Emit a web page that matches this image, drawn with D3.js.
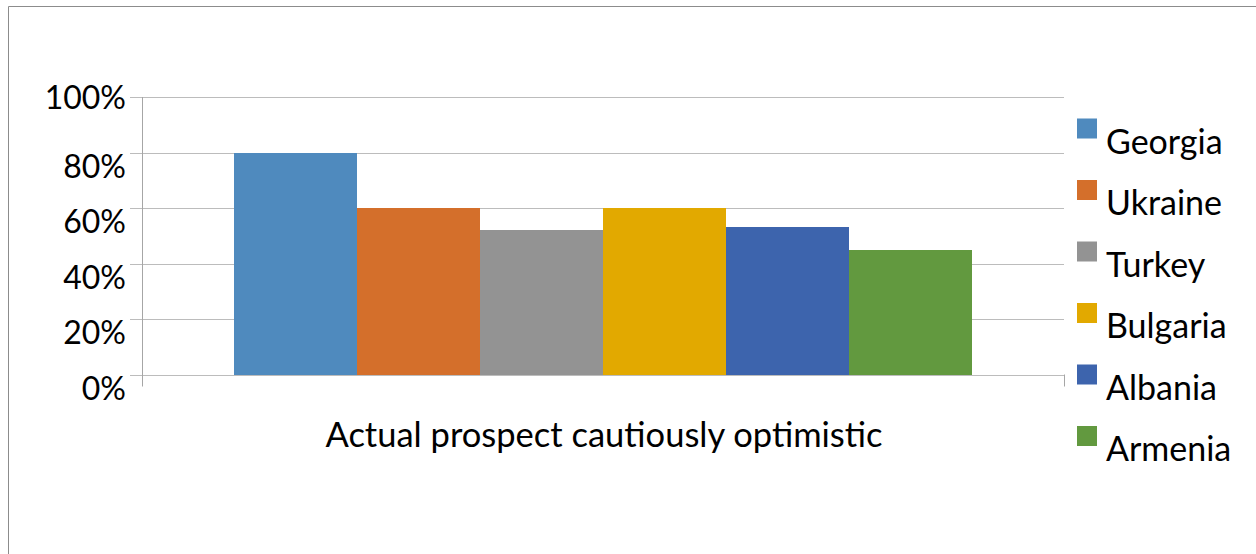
<!DOCTYPE html>
<html>
<head>
<meta charset="utf-8">
<script src="https://cdn.jsdelivr.net/npm/d3@7"></script>
<style>
  html, body { margin: 0; padding: 0; background: #fff; }
  svg { display: block; }
  text { font-family: Lato, "Open Sans", sans-serif; fill: #000; }
</style>
</head>
<body>
<svg id="chart" width="1256" height="554"></svg>
<script>
// Survey result: share of respondents per country
const category = "Actual prospect cautiously optimistic";
const countries = ["Georgia", "Ukraine", "Turkey", "Bulgaria", "Albania", "Armenia"];
const values = [0.80, 0.60, 0.52, 0.60, 0.53, 0.45];
const colors = ["#4f8abe", "#d46f2b", "#939393", "#e2a900", "#3d64ad", "#62993f"];
const yTicks = [0, 0.2, 0.4, 0.6, 0.8, 1.0];

const svg = d3.select("#chart");
const W = 1256, H = 554;
const plot = { left: 142, right: 1064, top: 97, bottom: 374.5 };

// chart frame
svg.append("path")
  .attr("d", `M8.5,${H} V6.5 H${W}`)
  .attr("fill", "none")
  .attr("stroke", "#8c8c8c")
  .attr("stroke-width", 1);

const y = d3.scaleLinear().domain([0, 1]).range([plot.bottom, plot.top]);

const x0 = d3.scaleBand()
  .domain([category])
  .range([plot.left, plot.right])
  .paddingInner(0)
  .paddingOuter(0.125);

const x1 = d3.scaleBand()
  .domain(countries)
  .range([0, x0.bandwidth()])
  .padding(0);

const color = d3.scaleOrdinal().domain(countries).range(colors);

// horizontal gridlines, extending left past the value axis as tick marks
const gy = svg.append("g")
  .attr("transform", `translate(${plot.right},0)`)
  .call(d3.axisLeft(y).tickValues(yTicks).tickSize(plot.right - 130).tickFormat(""));
gy.select(".domain").remove();
gy.selectAll(".tick line")
  .attr("stroke", "#bcbcbc")
  .attr("shape-rendering", "crispEdges");

// tick labels
svg.append("g")
  .selectAll("text")
  .data(yTicks)
  .join("text")
  .attr("x", 126)
  .attr("y", d => y(d) + (d === 1 ? 12 : 25))
  .attr("text-anchor", "end")
  .attr("font-size", 32)
  .text(d3.format(".0%"));

// bars
svg.append("g")
  .attr("transform", `translate(${x0(category)},0)`)
  .selectAll("rect")
  .data(countries.map((c, i) => ({ country: c, value: values[i] })))
  .join("rect")
  .attr("x", d => x1(d.country))
  .attr("y", d => y(d.value))
  .attr("width", x1.bandwidth())
  .attr("height", d => y(0) - y(d.value))
  .attr("fill", d => color(d.country))
  .attr("shape-rendering", "crispEdges");

// value axis line and category axis end ticks
const axisColor = "#a6a6a6";
svg.append("line")
  .attr("x1", plot.left + 0.5).attr("x2", plot.left + 0.5)
  .attr("y1", plot.top).attr("y2", plot.bottom + 12)
  .attr("stroke", axisColor);
svg.append("line")
  .attr("x1", plot.right + 0.5).attr("x2", plot.right + 0.5)
  .attr("y1", plot.bottom).attr("y2", plot.bottom + 12)
  .attr("stroke", axisColor);

// category label
svg.append("text")
  .attr("x", (plot.left + plot.right) / 2 + 1)
  .attr("y", 447)
  .attr("text-anchor", "middle")
  .attr("font-size", 34.5)
  .text(category);

// legend
const legend = svg.append("g")
  .selectAll("g")
  .data(countries)
  .join("g")
  .attr("transform", (d, i) => `translate(1077,${118.5 + i * 61.5})`);
legend.append("rect")
  .attr("width", 20).attr("height", 20)
  .attr("fill", d => color(d));
legend.append("text")
  .attr("x", 29)
  .attr("y", 35)
  .attr("font-size", 34)
  .text(d => d);
</script>
</body>
</html>
